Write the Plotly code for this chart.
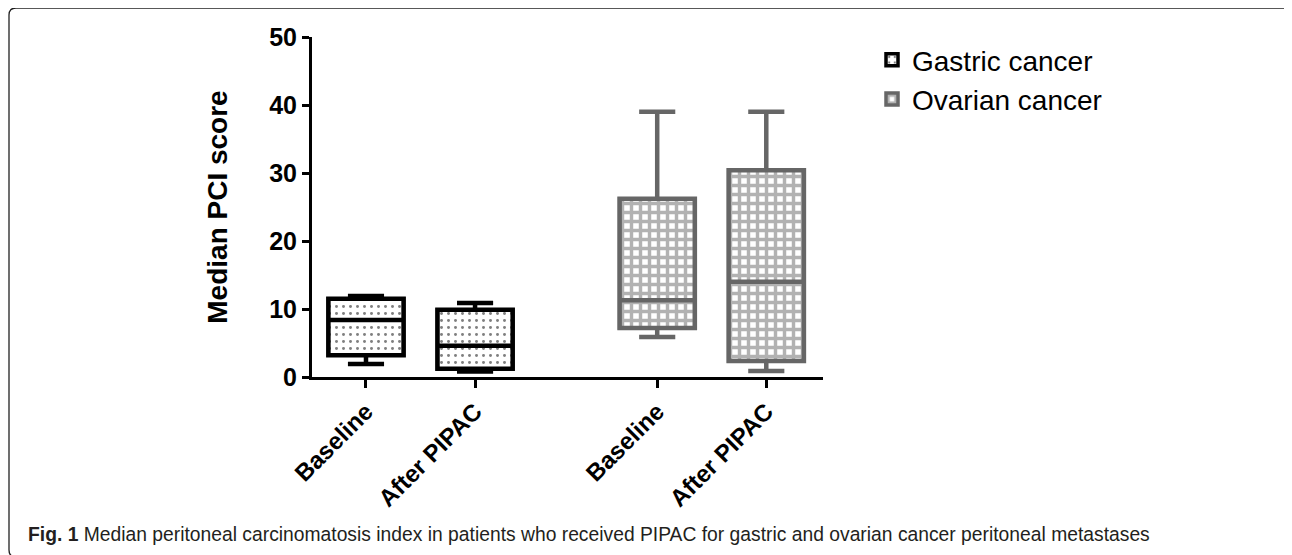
import plotly.graph_objects as go

# ---- data ----
groups = ["Gastric cancer", "Ovarian cancer"]
timepoints = ["Baseline", "After PIPAC"]

gastric_lower = [1.9, 0.8]
gastric_q1 = [3.2, 1.2]
gastric_median = [8.4, 4.6]
gastric_q3 = [11.5, 9.9]
gastric_upper = [11.9, 10.9]

ovarian_lower = [5.9, 0.9]
ovarian_q1 = [7.2, 2.35]
ovarian_median = [11.3, 14.0]
ovarian_q3 = [26.2, 30.4]
ovarian_upper = [39, 39]

y_ticks = [0, 10, 20, 30, 40, 50]

# ---- layout helpers (screen pixel coords; page body has an 8px margin) ----
OFF = 8
GROUP_STEP = 2.67
BOX_W = 0.69
W, H = 1292 - OFF, 555 - OFF
L, R, T, B = 312, 823, 37, 377
XR = [-0.495, 4.19]


def px(x):
    return (x - L) / (R - L)


def py(y):
    return (B - y) / (B - T)


stats = [
    (gastric_lower, gastric_q1, gastric_median, gastric_q3, gastric_upper),
    (ovarian_lower, ovarian_q1, ovarian_median, ovarian_q3, ovarian_upper),
]
colors = ["#000000", "#666666"]
patterns = [
    dict(shape=".", fgcolor="#000000", bgcolor="white", size=7, solidity=0.14),
    dict(shape="+", fgcolor="#666666", bgcolor="white", size=9, solidity=0.62),
]

fig = go.Figure()
tickvals, ticktext = [], []
for gi, (name, st) in enumerate(zip(groups, stats)):
    lo, q1, med, q3, up = st
    xs = [gi * GROUP_STEP + ti for ti in range(len(timepoints))]
    tickvals += xs
    ticktext += timepoints
    fig.add_trace(go.Bar(
        x=xs, y=[b - a for a, b in zip(q1, q3)], base=q1, width=BOX_W,
        name=name, legendgroup=name,
        marker=dict(color="white", pattern=patterns[gi],
                    line=dict(color=colors[gi], width=3.5)),
        hoverinfo="skip",
    ))
    fig.add_trace(go.Box(
        x=xs, q1=q1, median=med, q3=q3, lowerfence=lo, upperfence=up,
        width=BOX_W, whiskerwidth=0.48, boxpoints=False,
        line=dict(color=colors[gi], width=4.5),
        fillcolor="rgba(0,0,0,0)", showlegend=False, legendgroup=name,
    ))

bold = dict(family="Arial, Liberation Sans, sans-serif", color="black", weight="bold")

fig.update_layout(
    width=W, height=H,
    margin=dict(l=L - OFF, r=W - (R - OFF), t=T - OFF, b=H - (B - OFF)),
    paper_bgcolor="white", plot_bgcolor="white",
    barmode="overlay", boxmode="overlay",
    showlegend=True,
    legend=dict(x=px(872), y=py(35), xanchor="left", yanchor="top",
                font=dict(family="Arial, Liberation Sans, sans-serif", size=28, color="black"),
                bgcolor="rgba(0,0,0,0)", tracegroupgap=0),
    xaxis=dict(range=XR, showgrid=False, zeroline=False, showline=True,
               linecolor="black", linewidth=3, ticks="outside", ticklen=8,
               tickwidth=3, tickcolor="black", tickvals=tickvals, ticktext=ticktext,
               tickangle=-45, tickfont=dict(size=24, **bold)),
    yaxis=dict(range=[0, 50], showgrid=False, zeroline=False, showline=True,
               linecolor="black", linewidth=3, ticks="outside", ticklen=7,
               tickwidth=3, tickcolor="black", tickvals=y_ticks,
               tickfont=dict(size=25, **bold),
               title=dict(text="Median PCI score", font=dict(size=28, **bold), standoff=34)),
)

# rounded frame around figure panel
xl, xr_, yt, yb, r = 9, 1296, 8, 557, 7
path = (f"M {px(xl)},{py(yb - r)} L {px(xl)},{py(yt + r)} "
        f"Q {px(xl)},{py(yt)} {px(xl + r)},{py(yt)} "
        f"L {px(xr_ - r)},{py(yt)} Q {px(xr_)},{py(yt)} {px(xr_)},{py(yt + r)}")
fig.add_shape(type="path", xref="paper", yref="paper", path=path,
              line=dict(color="#222222", width=1.3))
path2 = f"M {px(xl)},{py(yb - r)} Q {px(xl)},{py(yb)} {px(xl + r)},{py(yb)}"
fig.add_shape(type="path", xref="paper", yref="paper", path=path2,
              line=dict(color="#222222", width=1.3))

fig.add_annotation(
    xref="paper", yref="paper", x=px(26), y=py(534), xanchor="left", yanchor="middle",
    showarrow=False,
    text="<b>Fig. 1</b> Median peritoneal carcinomatosis index in patients who received PIPAC for gastric and ovarian cancer peritoneal metastases",
    font=dict(family="Liberation Sans, Arial, sans-serif", size=19.3, color="#231f20"),
)

fig.write_html("out.html")
